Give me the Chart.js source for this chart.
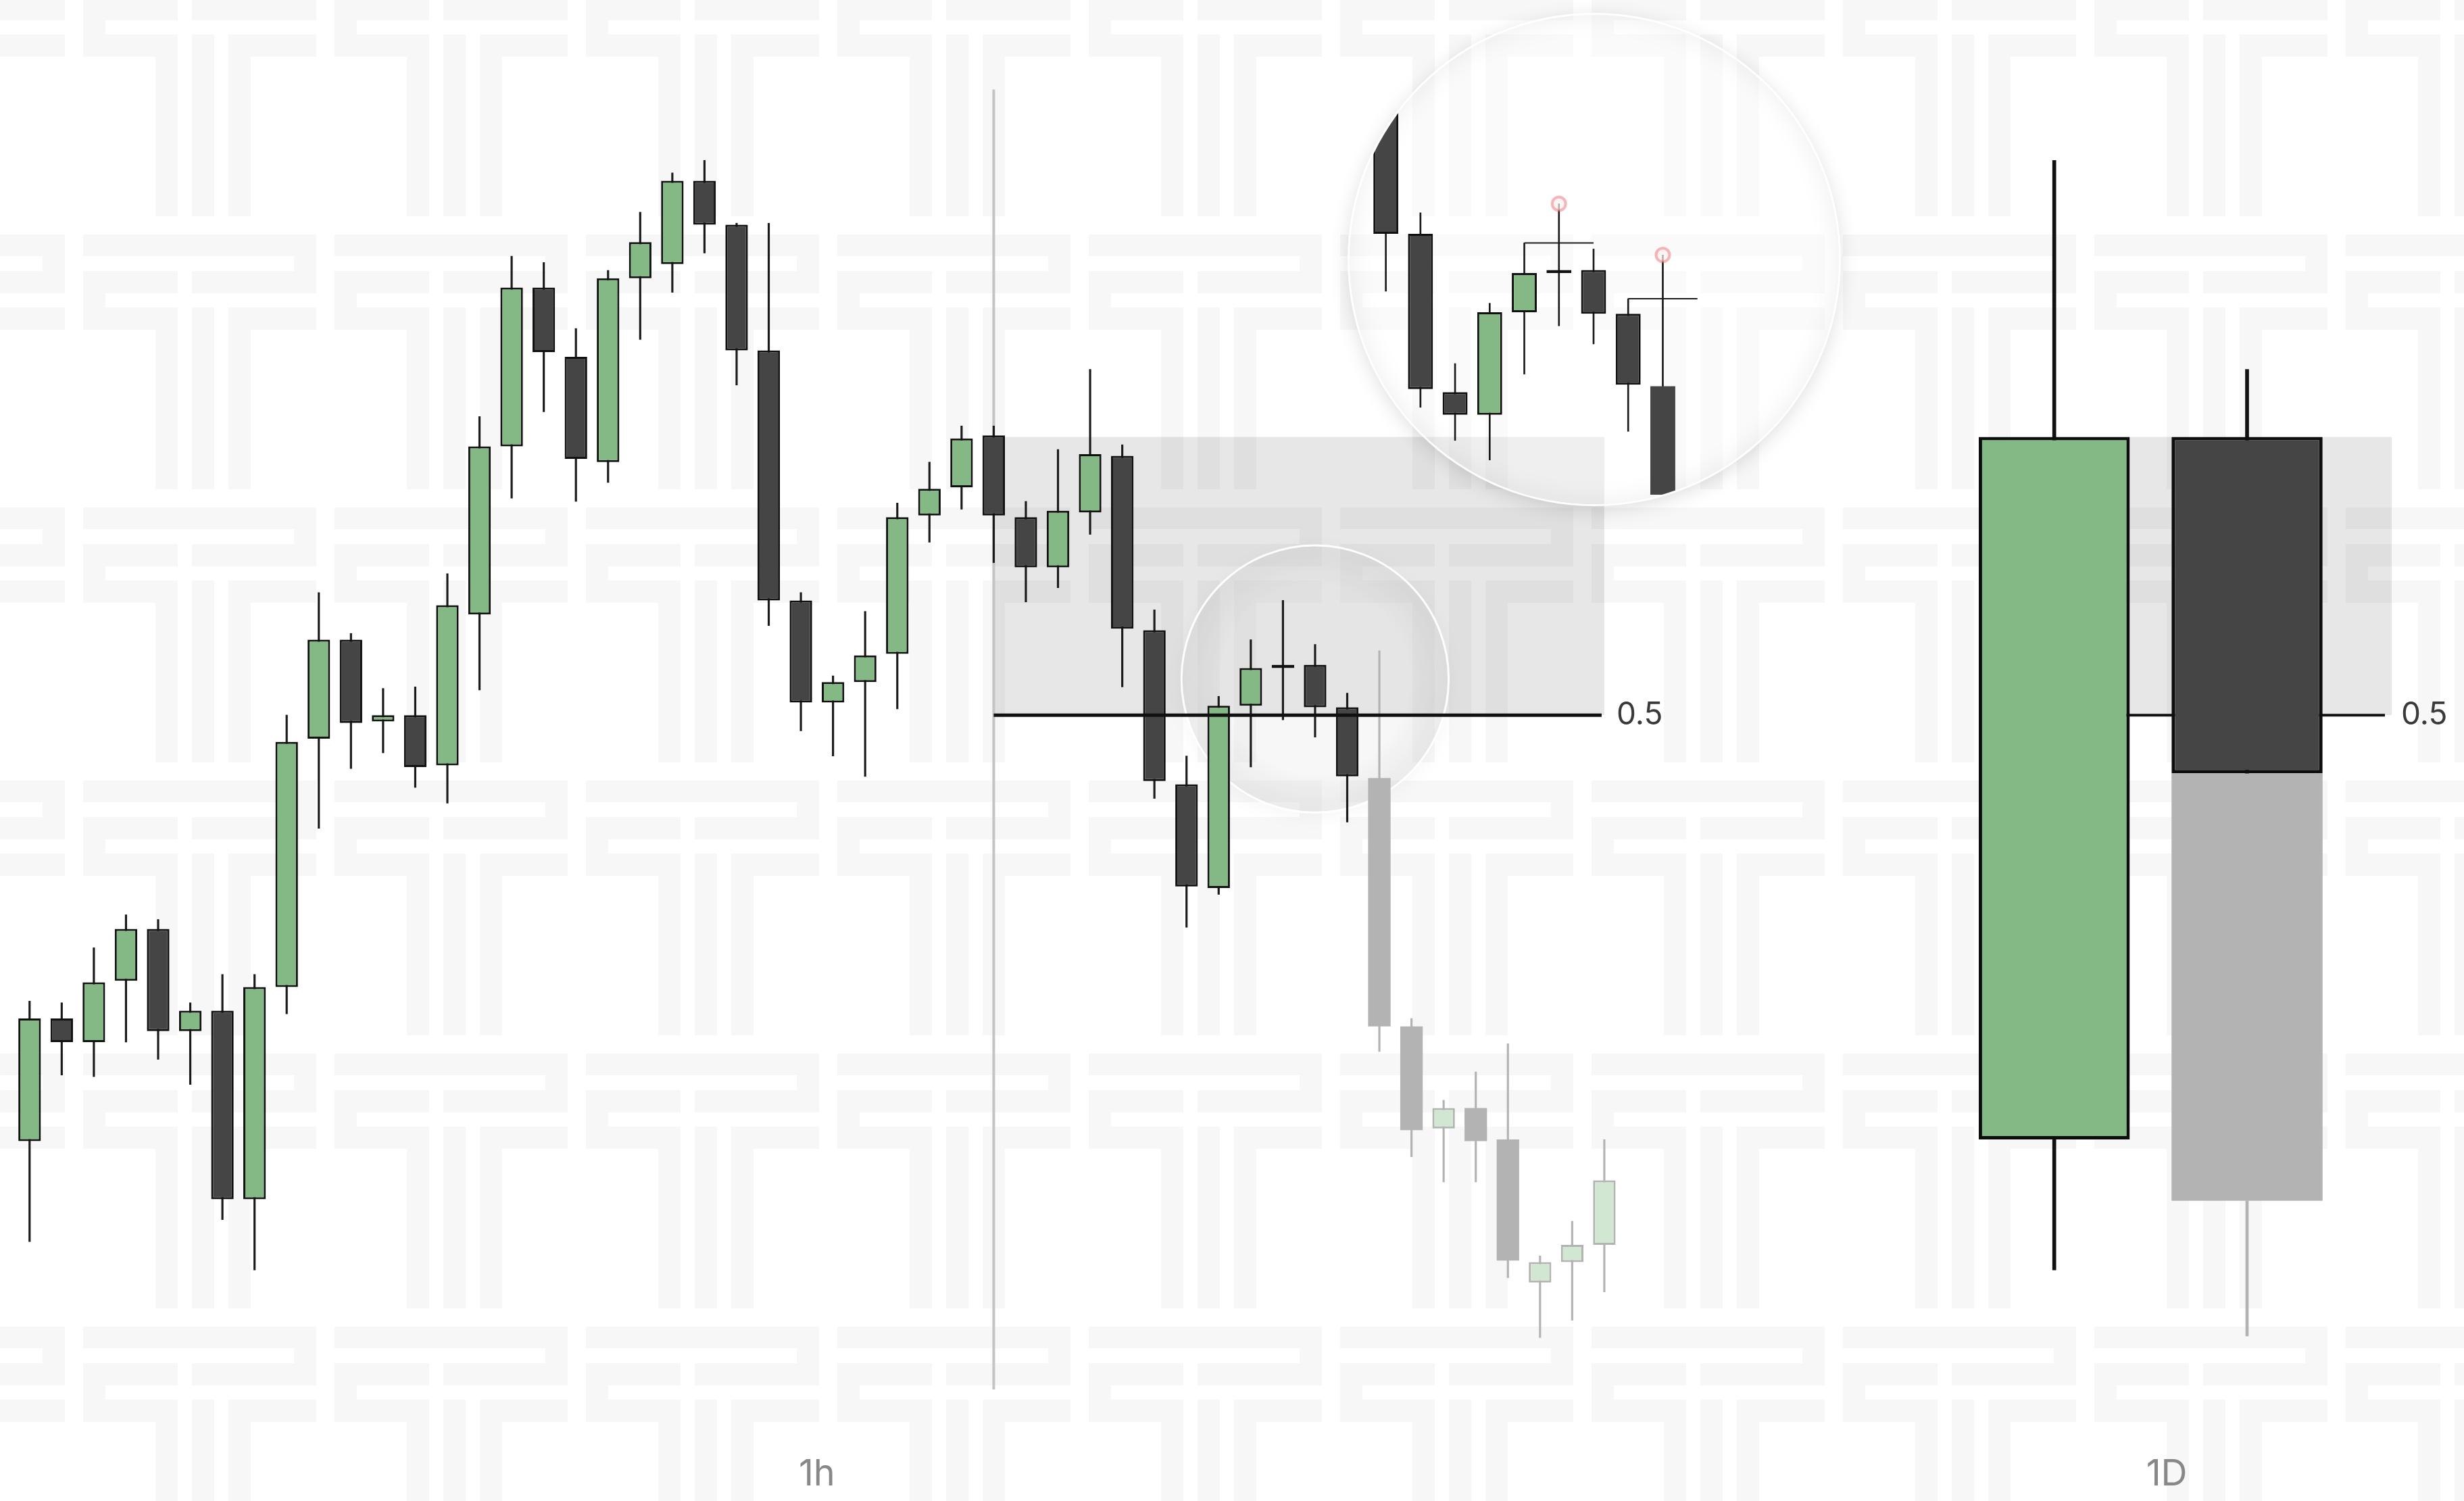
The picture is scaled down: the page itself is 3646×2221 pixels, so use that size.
<!DOCTYPE html>
<html>
<head>
<meta charset="utf-8">
<script src="https://cdn.jsdelivr.net/npm/chart.js@4.4.1/dist/chart.umd.min.js"></script>
<style>
  html, body { margin: 0; padding: 0; background: #fff; overflow: hidden; }
  #wrap { position: relative; width: 3646px; height: 2221px; }
  #main { position: absolute; left: 0; top: 0; }
  #lens {
    position: absolute; left: 1997px; top: 22px; width: 724px; height: 724px;
    border-radius: 50%; overflow: hidden;
    background: rgba(255, 255, 255, 0.35);
    box-shadow: 0 0 0 3px rgba(255, 255, 255, 0.95), 0 6px 30px rgba(0, 0, 0, 0.15), inset 0 0 40px rgba(0, 0, 0, 0.07);
  }
</style>
</head>
<body>
<div id="wrap">
  <canvas id="main" width="3646" height="2221"></canvas>
  <div id="lens"><canvas id="zoom" width="724" height="724"></canvas></div>
</div>
<script>
// 1h candles, the last ones (from fadedFrom) are the projected move
var hOpen  = [229, 307, 292, 331, 364, 299, 312, 192, 327, 485, 548, 496, 500, 468, 564, 671, 772, 728, 661, 778, 787, 840, 812, 732, 573, 508, 521, 539, 627, 645, 678, 626, 594, 629, 665, 554, 456, 390, 506, 530, 532, 505, 460, 302, 237, 250, 230, 139, 152, 163];
var hHigh  = [318, 317, 352, 373, 370, 317, 335, 335, 500, 578, 552, 517, 518, 590, 690, 792, 788, 746, 783, 820, 845, 853, 813, 813, 578, 525, 566, 635, 661, 684, 684, 636, 669, 720, 672, 567, 474, 512, 548, 573, 545, 514, 541, 307, 255, 273, 291, 156, 178, 230];
var hLow   = [165, 271, 270, 292, 281, 265, 179, 147, 310, 428, 466, 476, 454, 444, 516, 638, 693, 636, 648, 739, 769, 794, 710, 557, 490, 474, 461, 504, 610, 631, 597, 572, 581, 615, 518, 447, 365, 386, 467, 497, 486, 432, 286, 219, 203, 203, 142, 104, 115, 133];
var hClose = [307, 292, 330, 364, 299, 312, 192, 327, 483, 548, 495, 500, 467, 570, 671, 772, 731, 663, 778, 801, 840, 812, 732, 573, 508, 521, 538, 626, 644, 676, 627, 594, 630, 666, 555, 458, 391, 506, 530, 532, 505, 461, 302, 236, 250, 229, 153, 152, 163, 204];
var fadedFrom = 42;

// 1D candles
var dOpen  = [230, 677];
var dHigh  = [853, 720];
var dLow   = [147, 463];
var dClose = [677, 463];
var dailyAt = [63, 69];
// projected rest of the second day
var projOpen = 463, projClose = 191, projLow = 105;

var levelName = '0.5';
var sessionAt = 30, sessionTop = 898, sessionBottom = 71;
var tfLabels = ['1h', '1D'];
var tfLabelAt = [24.5, 66.5];
var glassAt = 40, glassPrice = 523, glassRadius = 85;

// lower timeframe view inside the big circle
var zOpen  = [890, 807, 702, 687, 755, 781, 783, 754, 706];
var zHigh  = [900, 821, 721, 761, 801, 827, 797, 764, 793];
var zLow   = [769, 692, 670, 657, 714, 746, 734, 676, 580];
var zClose = [807, 704, 687, 755, 781, 783, 754, 707, 600];
var sweepFrom = [4, 7];
var sweepTo = [6, 9];
var sweepBy = [5, 8];

var half = (dHigh[0] + dLow[0]) / 2;

var N = 74, labels = [];
var hBodies = [], hWicks = [], dBodies = [], dWicks = [], pBody = [], pWick = [];
for (var i = 0; i < N; i++) {
  labels.push(String(i + 1));
  hBodies.push(i < hOpen.length ? [hOpen[i], hClose[i]] : null);
  hWicks.push(i < hOpen.length ? [hLow[i], hHigh[i]] : null);
  var d = dailyAt.indexOf(i);
  dBodies.push(d >= 0 ? [dOpen[d], dClose[d]] : null);
  dWicks.push(d >= 0 ? [dLow[d], dHigh[d]] : null);
  pBody.push(i === dailyAt[1] ? [projClose, projOpen] : null);
  pWick.push(i === dailyAt[1] ? [projLow, projClose] : null);
}

function isUp(o, c) { return c >= o; }

var tileW = 372, tileH = 404, tileOrigin = [-142, -57];
var tileRects = [
  [0, 0, 238, 32], [265, 0, 107, 32], [205, 32, 33, 22],
  [0, 54, 33, 33], [54, 54, 184, 33], [265, 54, 107, 33], [265, 87, 33, 21],
  [108, 108, 130, 33], [265, 108, 107, 33],
  [0, 108, 33, 269], [54, 108, 33, 269], [108, 108, 33, 269]
];

var backdrop = {
  id: 'backdrop',
  beforeDraw: function (chart) {
    var c = chart.ctx;
    c.save();
    c.fillStyle = '#ffffff';
    c.fillRect(0, 0, chart.width, chart.height);
    c.fillStyle = '#f7f7f7';
    for (var ty = tileOrigin[1]; ty < chart.height; ty += tileH) {
      for (var tx = tileOrigin[0]; tx < chart.width; tx += tileW) {
        tileRects.forEach(function (r) { c.fillRect(tx + r[0], ty + r[1], r[2], r[3]); });
      }
    }
    c.restore();
  }
};

var levels = {
  id: 'levels',
  beforeDatasetsDraw: function (chart) {
    var c = chart.ctx, x = chart.scales.x, y = chart.scales.y, area = chart.chartArea;
    var yTop = y.getPixelForValue(dClose[0]), yHalf = y.getPixelForValue(half);
    c.save();
    // zones
    c.fillStyle = 'rgba(0,0,0,0.095)';
    var hx0 = x.getPixelForValue(sessionAt), hx1 = x.getPixelForValue(hOpen.length - 1);
    c.fillRect(hx0, yTop, hx1 - hx0, yHalf - yTop);
    var dx0 = x.getPixelForValue(dailyAt[0]);
    c.fillRect(dx0, yTop, area.right - dx0, yHalf - yTop);
    // session start
    c.strokeStyle = '#c4c4c4';
    c.lineWidth = 4;
    c.beginPath();
    c.moveTo(hx0, y.getPixelForValue(sessionTop));
    c.lineTo(hx0, y.getPixelForValue(sessionBottom));
    c.stroke();
    // daily half line (behind the daily bodies)
    c.strokeStyle = '#111';
    c.lineWidth = 4;
    c.beginPath();
    c.moveTo(dx0, yHalf);
    c.lineTo(area.right - 10, yHalf);
    c.stroke();
    // glass lens
    var gx = x.getPixelForValue(glassAt), gy = y.getPixelForValue(glassPrice);
    var gr = y.getPixelForValue(glassPrice - glassRadius) - gy;
    c.save();
    c.shadowColor = 'rgba(0,0,0,0.16)';
    c.shadowBlur = 30;
    c.shadowOffsetY = 6;
    c.fillStyle = 'rgba(255,255,255,0.25)';
    c.beginPath();
    c.arc(gx, gy, gr, 0, Math.PI * 2);
    c.fill();
    c.restore();
    var g = c.createRadialGradient(gx, gy, gr * 0.7, gx, gy, gr);
    g.addColorStop(0, 'rgba(0,0,0,0)');
    g.addColorStop(1, 'rgba(0,0,0,0.06)');
    c.fillStyle = g;
    c.beginPath();
    c.arc(gx, gy, gr, 0, Math.PI * 2);
    c.fill();
    c.strokeStyle = 'rgba(255,255,255,0.95)';
    c.lineWidth = 3;
    c.stroke();
    c.restore();
  },
  afterDatasetsDraw: function (chart) {
    var c = chart.ctx, x = chart.scales.x, y = chart.scales.y, area = chart.chartArea;
    var yHalf = y.getPixelForValue(half);
    var hx0 = x.getPixelForValue(sessionAt), hx1 = x.getPixelForValue(hOpen.length - 1);
    c.save();
    c.strokeStyle = '#111';
    c.lineWidth = 5;
    c.beginPath();
    c.moveTo(hx0, yHalf);
    c.lineTo(hx1 - 4, yHalf);
    c.stroke();
    c.font = '46px Inter';
    c.fillStyle = '#3a3a3a';
    c.textAlign = 'left';
    c.textBaseline = 'middle';
    c.fillText(levelName, hx1 + 18, yHalf);
    c.fillText(levelName, area.right + 14, yHalf);
    c.font = '54px Inter';
    c.fillStyle = '#888888';
    c.textAlign = 'center';
    tfLabels.forEach(function (t, k) {
      c.fillText(t, x.getPixelForValue(tfLabelAt[k]), y.getPixelForValue(17));
    });
    c.restore();
  }
};

new Chart(document.getElementById('main'), {
  type: 'bar',
  data: {
    labels: labels,
    datasets: [
      {
        data: hWicks, grouped: false, order: 6, barThickness: 2.5,
        backgroundColor: function (c) { return c.dataIndex >= fadedFrom ? '#b3b3b3' : '#1a1a1a'; }
      },
      {
        data: hBodies, grouped: false, order: 5, barPercentage: 0.7, categoryPercentage: 1, borderSkipped: false,
        backgroundColor: function (c) {
          var i = c.dataIndex, up = isUp(hOpen[i], hClose[i]);
          if (i >= fadedFrom) return up ? '#d1e7d1' : '#b3b3b3';
          return up ? '#84b884' : '#454545';
        },
        borderColor: function (c) { return c.dataIndex >= fadedFrom ? '#b3b3b3' : '#111111'; },
        borderWidth: function (c) {
          var i = c.dataIndex;
          if (i >= fadedFrom && !isUp(hOpen[i], hClose[i])) return 0;
          return 3;
        }
      },
      { data: pWick, grouped: false, order: 4, barThickness: 4, backgroundColor: '#b3b3b3' },
      { data: pBody, grouped: false, order: 3, barPercentage: 4.7, categoryPercentage: 1, backgroundColor: '#b3b3b3' },
      { data: dWicks, grouped: false, order: 2, barThickness: 5, backgroundColor: '#111111' },
      {
        data: dBodies, grouped: false, order: 1, barPercentage: 4.7, categoryPercentage: 1, borderSkipped: false,
        backgroundColor: function (c) {
          var d = dailyAt.indexOf(c.dataIndex);
          return d >= 0 && isUp(dOpen[d], dClose[d]) ? '#84b884' : '#454545';
        },
        borderColor: '#0d0d0d', borderWidth: 5
      }
    ]
  },
  options: {
    responsive: false,
    animation: false,
    devicePixelRatio: 1,
    layout: { padding: { left: 20, right: 107, top: 0, bottom: 0 } },
    scales: {
      x: { display: false, offset: true },
      y: { display: false, min: 0, max: 955 }
    },
    plugins: { legend: { display: false }, tooltip: { enabled: false } }
  },
  plugins: [backdrop, levels]
});

// inset: lower timeframe with the two sweeps
var zLabels = [], zBodies = [], zWicks = [], rings = [];
for (var j = 0; j < 13; j++) {
  zLabels.push(String(j + 1));
  zBodies.push(j < zOpen.length ? [zOpen[j], zClose[j]] : null);
  zWicks.push(j < zOpen.length ? [zLow[j], zHigh[j]] : null);
  rings.push(sweepBy.indexOf(j) >= 0 ? zHigh[j] : null);
}

var sweepLines = {
  id: 'sweepLines',
  afterDatasetsDraw: function (chart) {
    var c = chart.ctx, x = chart.scales.x, y = chart.scales.y;
    c.save();
    c.strokeStyle = '#1a1a1a';
    c.lineWidth = 2;
    sweepFrom.forEach(function (f, k) {
      var yy = y.getPixelForValue(zHigh[f]);
      c.beginPath();
      c.moveTo(x.getPixelForValue(f), yy);
      c.lineTo(x.getPixelForValue(sweepTo[k]), yy);
      c.stroke();
    });
    c.restore();
  }
};

new Chart(document.getElementById('zoom'), {
  type: 'bar',
  data: {
    labels: zLabels,
    datasets: [
      {
        type: 'line', data: rings, showLine: false, order: 0,
        pointRadius: 10, pointBorderWidth: 4,
        pointBorderColor: 'rgba(238,112,118,0.5)', pointBackgroundColor: 'rgba(255,240,240,0.7)'
      },
      {
        data: zBodies, grouped: false, order: 1, barPercentage: 0.72, categoryPercentage: 1, borderSkipped: false,
        backgroundColor: function (c) {
          var i = c.dataIndex;
          return isUp(zOpen[i], zClose[i]) ? '#84b884' : '#454545';
        },
        borderColor: '#111111',
        borderWidth: function (c) { return c.dataIndex === zOpen.length - 1 ? 0 : 3; }
      },
      { data: zWicks, grouped: false, order: 2, barThickness: 2, backgroundColor: '#1a1a1a' }
    ]
  },
  options: {
    responsive: false,
    animation: false,
    devicePixelRatio: 1,
    layout: { padding: { left: 28, right: 30, top: 0, bottom: 0 } },
    scales: {
      x: { display: false, offset: true },
      y: { display: false, min: 634, max: 946 }
    },
    plugins: { legend: { display: false }, tooltip: { enabled: false } }
  },
  plugins: [sweepLines]
});
</script>
</body>
</html>
